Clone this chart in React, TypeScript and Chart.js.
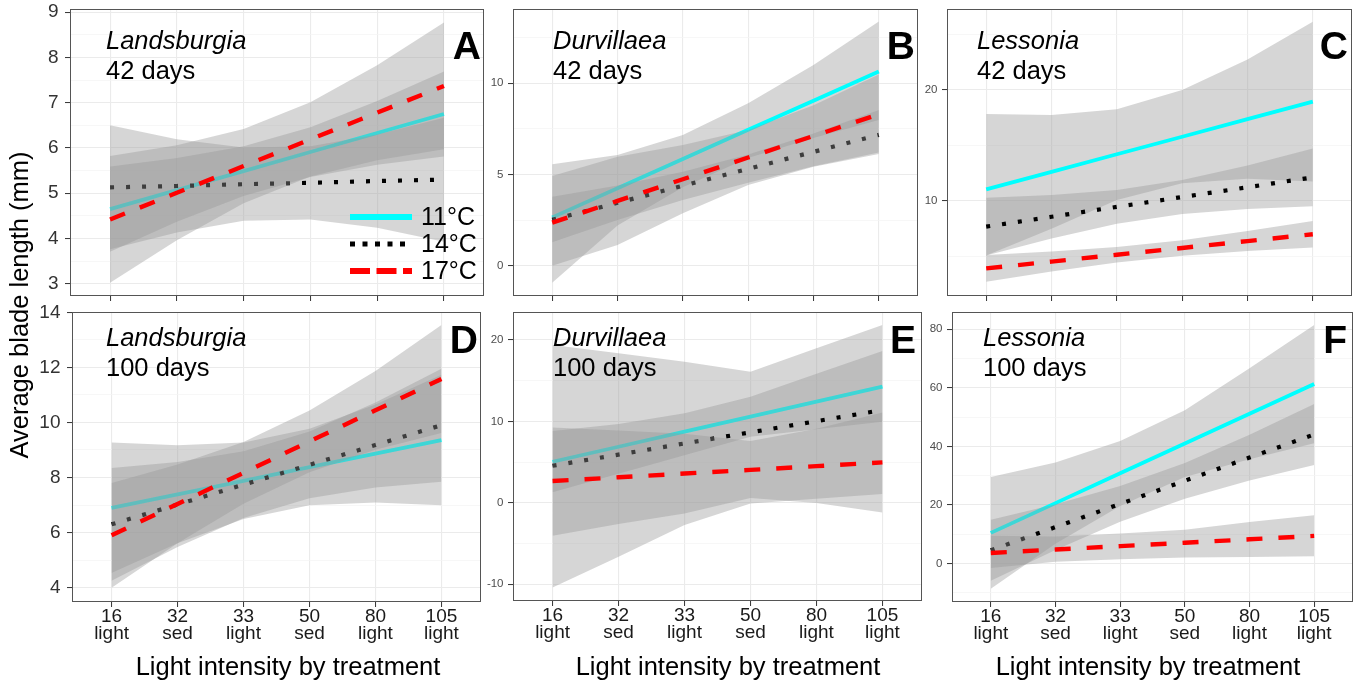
import React, { useEffect, useRef } from 'react';
import { Chart, registerables } from 'chart.js';
Chart.register(...registerables);

const FONT = '"Liberation Sans", Arial, sans-serif';
Chart.defaults.font.family = FONT;

// ---------- categories ----------
const lightLevels = ['16', '32', '33', '50', '80', '105'];
const treatments = ['light', 'sed', 'light', 'sed', 'light', 'light'];
const seriesNames = ['11°C', '14°C', '17°C'];

// ---------- Panel A: Landsburgia 42 days ----------
const aFit11 = [4.65, 5.07, 5.49, 5.91, 6.33, 6.75];
const aLo11 = [3.71, 4.37, 4.94, 5.36, 5.63, 5.81];
const aHi11 = [5.59, 5.78, 6.04, 6.46, 7.04, 7.69];
const aFit14 = [5.13, 5.16, 5.2, 5.23, 5.27, 5.3];
const aLo14 = [3.76, 4.13, 4.39, 4.42, 4.24, 3.93];
const aHi14 = [6.5, 6.19, 6.01, 6.04, 6.3, 6.67];
const aFit17 = [4.42, 5.01, 5.6, 6.19, 6.78, 7.37];
const aLo17 = [3.02, 3.96, 4.78, 5.37, 5.73, 5.97];
const aHi17 = [5.82, 6.06, 6.42, 7.01, 7.83, 8.77];
const aTicks = [3, 4, 5, 6, 7, 8, 9];

// ---------- Panel B: Durvillaea 42 days ----------
const bFit11 = [2.65, 4.25, 5.85, 7.45, 9.04, 10.64];
const bLo11 = [-0.93, 2.2, 4.3, 5.9, 7.0, 7.99];
const bHi11 = [5.56, 6.07, 7.17, 8.9, 11.0, 13.38];
const bFit14 = [2.52, 3.45, 4.38, 5.31, 6.24, 7.17];
const bLo14 = [1.29, 2.5, 3.6, 4.55, 5.45, 6.2];
const bHi14 = [3.78, 4.4, 5.15, 6.1, 7.25, 8.54];
const bFit17 = [2.36, 3.55, 4.74, 5.93, 7.11, 8.3];
const bLo17 = [0.0, 1.13, 2.87, 4.42, 5.43, 6.12];
const bHi17 = [4.92, 5.97, 6.61, 7.44, 8.79, 10.48];
const bTicks = [0, 5, 10];

// ---------- Panel C: Lessonia 42 days ----------
const cFit11 = [11.05, 12.63, 14.21, 15.79, 17.37, 18.95];
const cLo11 = [5.1, 7.5, 10.1, 11.6, 12.0, 11.75];
const cHi11 = [17.84, 17.75, 18.26, 20.0, 22.76, 26.16];
const cFit14 = [7.69, 8.58, 9.47, 10.36, 11.24, 12.13];
const cLo14 = [5.09, 6.63, 7.94, 8.83, 9.29, 9.53];
const cHi14 = [10.29, 10.53, 11.0, 11.89, 13.19, 14.73];
const cFit17 = [3.93, 4.54, 5.16, 5.77, 6.39, 7.0];
const cLo17 = [2.73, 3.64, 4.46, 5.07, 5.49, 5.8];
const cHi17 = [5.13, 5.44, 5.86, 6.47, 7.29, 8.2];
const cTicks = [10, 20];

// ---------- Panel D: Landsburgia 100 days ----------
const dFit11 = [6.9, 7.39, 7.88, 8.38, 8.87, 9.36];
const dLo11 = [4.53, 5.61, 6.49, 6.99, 7.09, 6.99];
const dHi11 = [9.27, 9.17, 9.27, 9.77, 10.65, 11.73];
const dFit14 = [6.3, 7.02, 7.74, 8.46, 9.18, 9.9];
const dLo14 = [4.25, 5.48, 6.53, 7.25, 7.64, 7.85];
const dHi14 = [8.35, 8.56, 8.95, 9.67, 10.72, 11.95];
const dFit17 = [5.9, 7.04, 8.17, 9.31, 10.44, 11.58];
const dLo17 = [4.0, 5.61, 7.05, 8.19, 9.01, 9.62];
const dHi17 = [7.8, 8.47, 9.29, 10.43, 11.87, 13.54];
const dTicks = [4, 6, 8, 10, 12, 14];

// ---------- Panel E: Durvillaea 100 days ----------
const eFit11 = [5.05, 6.89, 8.74, 10.58, 12.43, 14.27];
const eLo11 = [1.29, 3.57, 5.84, 8.12, 9.04, 9.96];
const eHi11 = [8.82, 9.7, 11.0, 13.04, 15.85, 18.65];
const eFit14 = [4.56, 5.93, 7.3, 8.66, 10.03, 11.4];
const eLo14 = [-10.38, -6.62, -2.73, -0.07, 0.5, 1.08];
const eHi14 = [19.39, 18.36, 17.34, 16.11, 18.98, 21.84];
const eFit17 = [2.68, 3.14, 3.6, 4.05, 4.51, 4.97];
const eLo17 = [-4.04, -2.6, -1.3, 0.6, 0.0, -1.17];
const eHi17 = [9.27, 8.9, 8.5, 7.6, 9.1, 11.1];
const eTicks = [-10, 0, 10, 20];

// ---------- Panel F: Lessonia 100 days ----------
const fFit11 = [10.5, 20.66, 30.82, 40.98, 51.14, 61.3];
const fLo11 = [-8.6, 6.8, 19.7, 29.6, 35.6, 41.1];
const fHi11 = [29.6, 34.5, 41.9, 52.4, 66.7, 81.5];
const fFit14 = [4.56, 12.47, 20.38, 28.29, 36.2, 44.1];
const fLo14 = [-5.84, 4.67, 14.28, 22.19, 28.4, 33.7];
const fHi14 = [14.96, 20.27, 26.48, 34.39, 44.0, 54.5];
const fFit17 = [3.65, 4.81, 5.97, 7.13, 8.3, 9.46];
const fLo17 = [-1.5, 0.6, 1.5, 2.05, 2.3, 2.5];
const fHi17 = [9.5, 9.3, 10.3, 11.6, 14.2, 16.5];
const fTicks = [0, 20, 40, 60, 80];

// ---------- styling ----------
const lineColors = ['#00ffff', '#000000', '#ff0000'];
const lineDashes = [[], [4, 12], [16, 16]];
const lineWidths = [3.8, 4.2, 4.4];
const ribbonFill = 'rgba(153,153,153,0.4)';

type Area = { l: number; r: number; t: number; b: number };
type PanelDef = {
  genus: string;
  days: string;
  letter: string;
  fits: number[][];
  lows: number[][];
  highs: number[][];
  yMin: number;
  yMax: number;
  yMajor: number[];
  area: Area;
  bottomRow: boolean;
  bigY: boolean;
  titleX: number;
  titleY: number;
  letterX: number;
  letterY: number;
  legend?: boolean;
};

const panels: PanelDef[] = [
  {
    genus: 'Landsburgia', days: '42 days', letter: 'A',
    fits: [aFit11, aFit14, aFit17], lows: [aLo11, aLo14, aLo17], highs: [aHi11, aHi14, aHi17],
    yMin: 2.73, yMax: 9.07, yMajor: aTicks,
    area: { l: 70, r: 484, t: 9, b: 296 }, bottomRow: false, bigY: true,
    titleX: 106, titleY: 49, letterX: 481, letterY: 59, legend: true,
  },
  {
    genus: 'Durvillaea', days: '42 days', letter: 'B',
    fits: [bFit11, bFit14, bFit17], lows: [bLo11, bLo14, bLo17], highs: [bHi11, bHi14, bHi17],
    yMin: -1.66, yMax: 14.07, yMajor: bTicks,
    area: { l: 513, r: 918, t: 9, b: 296 }, bottomRow: false, bigY: false,
    titleX: 553, titleY: 49, letterX: 915, letterY: 59,
  },
  {
    genus: 'Lessonia', days: '42 days', letter: 'C',
    fits: [cFit11, cFit14, cFit17], lows: [cLo11, cLo14, cLo17], highs: [cHi11, cHi14, cHi17],
    yMin: 1.44, yMax: 27.3, yMajor: cTicks,
    area: { l: 947, r: 1352, t: 9, b: 296 }, bottomRow: false, bigY: false,
    titleX: 977, titleY: 49, letterX: 1348, letterY: 59,
  },
  {
    genus: 'Landsburgia', days: '100 days', letter: 'D',
    fits: [dFit11, dFit14, dFit17], lows: [dLo11, dLo14, dLo17], highs: [dHi11, dHi14, dHi17],
    yMin: 3.48, yMax: 14.01, yMajor: dTicks,
    area: { l: 72, r: 481, t: 312, b: 602 }, bottomRow: true, bigY: true,
    titleX: 106, titleY: 346, letterX: 478, letterY: 353,
  },
  {
    genus: 'Durvillaea', days: '100 days', letter: 'E',
    fits: [eFit11, eFit14, eFit17], lows: [eLo11, eLo14, eLo17], highs: [eHi11, eHi14, eHi17],
    yMin: -12.05, yMax: 23.44, yMajor: eTicks,
    area: { l: 513, r: 922, t: 312, b: 601 }, bottomRow: true, bigY: false,
    titleX: 553, titleY: 346, letterX: 916, letterY: 353,
  },
  {
    genus: 'Lessonia', days: '100 days', letter: 'F',
    fits: [fFit11, fFit14, fFit17], lows: [fLo11, fLo14, fLo17], highs: [fHi11, fHi14, fHi17],
    yMin: -13.1, yMax: 85.9, yMajor: fTicks,
    area: { l: 952, r: 1353, t: 312, b: 602 }, bottomRow: true, bigY: false,
    titleX: 983, titleY: 346, letterX: 1347, letterY: 353,
  },
];

const Y_W = 64;
const PAD_TOP = 24;
const PAD_RIGHT = 6;

function geometry(p: PanelDef) {
  const xH = p.bottomRow ? 72 : 26;
  const x = p.area.l - Y_W;
  const y = p.area.t - PAD_TOP;
  const w = Y_W + (p.area.r - p.area.l) + PAD_RIGHT;
  const h = PAD_TOP + (p.area.b - p.area.t) + xH;
  return { x, y, w, h, xH };
}

function withMinors(major: number[], min: number, max: number) {
  const step = major[1] - major[0];
  const all: number[] = [];
  for (let v = major[0] - step; v <= major[major.length - 1] + step + 1e-9; v += step / 2) {
    if (v >= min - 1e-9 && v <= max + 1e-9) all.push(Math.round(v * 1000) / 1000);
  }
  return all;
}

function PanelChart({ p }: { p: PanelDef }) {
  const ref = useRef<HTMLCanvasElement>(null);
  const geo = geometry(p);

  useEffect(() => {
    const canvas = ref.current;
    if (!canvas) return;
    const isMajor = (v: number) => p.yMajor.some((m) => Math.abs(m - v) < 1e-6);
    const yAll = withMinors(p.yMajor, p.yMin, p.yMax);
    const pts = (arr: number[]) => arr.map((v, i) => ({ x: i, y: v }));

    const datasets: any[] = [];
    for (let g = 0; g < 3; g++) {
      const base = (3 - g) * 3;
      datasets.push({
        data: pts(p.lows[g]), order: base + 2, borderWidth: 0, borderColor: 'rgba(0,0,0,0)',
        pointRadius: 0, fill: false,
      });
      datasets.push({
        data: pts(p.highs[g]), order: base + 1, borderWidth: 0, borderColor: 'rgba(0,0,0,0)',
        pointRadius: 0, fill: '-1', backgroundColor: ribbonFill,
      });
      datasets.push({
        label: seriesNames[g], data: pts(p.fits[g]), order: base, borderColor: lineColors[g],
        borderWidth: lineWidths[g], borderDash: lineDashes[g], borderCapStyle: 'butt',
        pointRadius: 0, fill: false, tension: 0,
      });
    }

    const decor = {
      id: 'decor',
      afterDraw(chart: any) {
        const ctx: CanvasRenderingContext2D = chart.ctx;
        const ca = chart.chartArea;
        ctx.save();
        ctx.strokeStyle = '#555555';
        ctx.lineWidth = 1;
        ctx.setLineDash([]);
        ctx.strokeRect(Math.round(ca.left) + 0.5, Math.round(ca.top) + 0.5,
          Math.round(ca.right - ca.left) - 1, Math.round(ca.bottom - ca.top) - 1);
        const ox = geo.x, oy = geo.y;
        ctx.fillStyle = '#000';
        ctx.textBaseline = 'alphabetic';
        ctx.textAlign = 'left';
        ctx.font = `italic 25.5px ${FONT}`;
        ctx.fillText(p.genus, p.titleX - ox, p.titleY - oy);
        ctx.font = `25.5px ${FONT}`;
        ctx.fillText(p.days, p.titleX - ox, p.titleY + 30 - oy);
        ctx.font = `bold 39px ${FONT}`;
        ctx.textAlign = 'right';
        ctx.fillText(p.letter, p.letterX - ox, p.letterY - oy);
        if (p.legend) {
          const ys = [217, 244, 271];
          const keyDash = [[], [5, 7.5], [20, 6.5]];
          const keyW = [6, 5, 6];
          for (let g = 0; g < 3; g++) {
            ctx.beginPath();
            ctx.strokeStyle = lineColors[g];
            ctx.lineWidth = keyW[g];
            ctx.lineCap = 'butt';
            ctx.setLineDash(keyDash[g]);
            ctx.moveTo(350 - ox, ys[g] - oy);
            ctx.lineTo(412 - ox, ys[g] - oy);
            ctx.stroke();
            ctx.setLineDash([]);
            ctx.fillStyle = '#000';
            ctx.font = `25px ${FONT}`;
            ctx.textAlign = 'left';
            ctx.textBaseline = 'middle';
            ctx.fillText(seriesNames[g], 421 - ox, ys[g] + 1 - oy);
          }
        }
        ctx.restore();
      },
    };

    const chart = new Chart(canvas, {
      type: 'line',
      data: { datasets },
      plugins: [decor],
      options: {
        animation: false,
        responsive: false,
        devicePixelRatio: 1,
        events: [],
        layout: { padding: { left: 0, right: PAD_RIGHT, top: PAD_TOP, bottom: 0 } },
        plugins: { legend: { display: false }, tooltip: { enabled: false }, title: { display: false } },
        scales: {
          x: {
            type: 'linear',
            min: -0.6,
            max: 5.6,
            afterBuildTicks: (scale: any) => {
              scale.ticks = lightLevels.map((_, i) => ({ value: i }));
            },
            afterFit: (scale: any) => {
              scale.height = geo.xH;
            },
            border: { display: false },
            grid: {
              color: '#ebebeb',
              lineWidth: 1.1,
              drawTicks: true,
              tickLength: 5,
              tickColor: '#333333',
              tickWidth: 1,
            },
            ticks: {
              display: p.bottomRow,
              autoSkip: false,
              maxRotation: 0,
              minRotation: 0,
              padding: 2,
              color: '#1a1a1a',
              font: { size: 19, lineHeight: 0.87, family: FONT },
              callback: (v: any) => {
                const i = Math.round(Number(v));
                return [lightLevels[i], treatments[i]];
              },
            },
          },
          y: {
            type: 'linear',
            min: p.yMin,
            max: p.yMax,
            afterBuildTicks: (scale: any) => {
              scale.ticks = yAll.map((v) => ({ value: v }));
            },
            afterFit: (scale: any) => {
              scale.width = Y_W;
            },
            border: { display: false },
            grid: {
              color: (c: any) => (isMajor(c.tick?.value) ? '#ebebeb' : '#f3f3f3'),
              lineWidth: (c: any) => (isMajor(c.tick?.value) ? 1.1 : 0.7),
              drawTicks: true,
              tickLength: 5,
              tickColor: (c: any) => (isMajor(c.tick?.value) ? '#333333' : 'rgba(0,0,0,0)'),
              tickWidth: 1,
            },
            ticks: {
              autoSkip: false,
              padding: p.bigY ? 6.5 : 4.5,
              color: p.bigY ? '#333333' : '#4d4d4d',
              font: { size: p.bigY ? 19 : 11.5, family: FONT },
              callback: (v: any) => (isMajor(Number(v)) ? String(v) : ''),
            },
          },
        },
      } as any,
    });
    return () => chart.destroy();
  }, []);

  return (
    <canvas
      ref={ref}
      width={geo.w}
      height={geo.h}
      style={{ position: 'absolute', left: geo.x, top: geo.y, width: geo.w, height: geo.h }}
    />
  );
}

const xTitleCenters = [288, 728, 1148];

export default function App() {
  const titleStyle: React.CSSProperties = {
    position: 'absolute',
    fontFamily: FONT,
    fontSize: '25.5px',
    lineHeight: '30px',
    color: '#000',
    whiteSpace: 'nowrap',
    textAlign: 'center',
    width: 400,
  };
  return (
    <div
      style={{
        position: 'fixed', left: 0, top: 0, width: 1362, height: 686,
        background: '#ffffff', overflow: 'hidden',
      }}
    >
      {panels.map((p, i) => (
        <PanelChart key={i} p={p} />
      ))}
      {xTitleCenters.map((cx, i) => (
        <div key={i} style={{ ...titleStyle, left: cx - 200, top: 651 }}>
          Light intensity by treatment
        </div>
      ))}
      <div
        style={{
          ...titleStyle,
          left: 19 - 200,
          top: 305 - 15,
          transform: 'rotate(-90deg)',
        }}
      >
        Average blade length (mm)
      </div>
    </div>
  );
}
